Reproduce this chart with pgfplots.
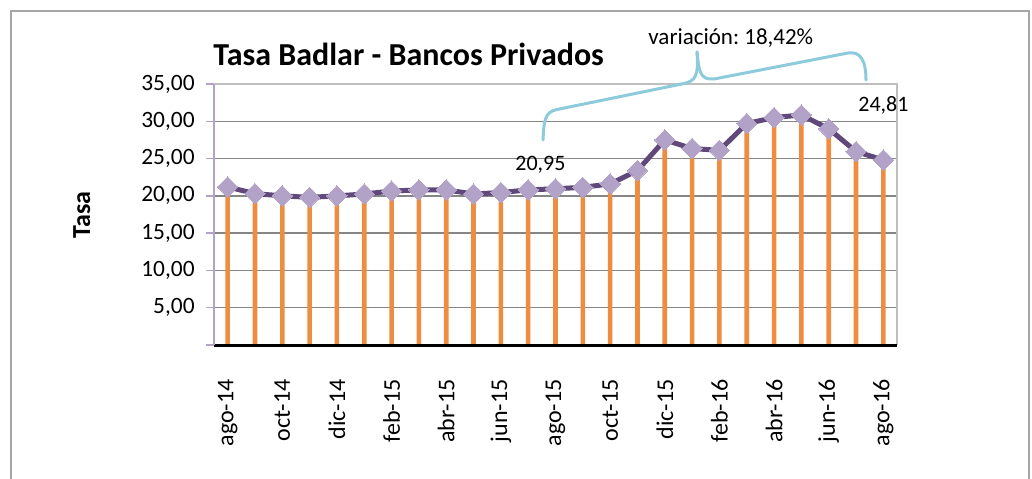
\documentclass[border=0pt]{standalone}
\usepackage{fontspec}
\setmainfont{Carlito}
\usepackage{pgfplots}
\usepackage{pgfplotstable}
\pgfplotsset{compat=1.18}
\definecolor{barorange}{RGB}{238,140,64}
\definecolor{linepurple}{RGB}{96,73,122}
\definecolor{markpurple}{RGB}{179,162,199}
\definecolor{gridgray}{RGB}{134,134,134}
\definecolor{bordergray}{RGB}{191,191,191}
\definecolor{bracecol}{RGB}{140,202,220}
\definecolor{framegray}{RGB}{166,166,166}
\pgfplotstableread{
x y
0 21.20
1 20.30
2 20.00
3 19.80
4 20.00
5 20.25
6 20.65
7 20.80
8 20.80
9 20.25
10 20.45
11 20.80
12 20.95
13 21.15
14 21.60
15 23.40
16 27.50
17 26.35
18 26.10
19 29.70
20 30.50
21 30.85
22 29.00
23 25.95
24 24.81
}\datatable
\begin{document}
\frenchspacing
\begin{tikzpicture}
\useasboundingbox (0,0) rectangle (516pt,-239pt);
\draw[framegray, line width=1pt] (5.5pt,-5.5pt) rectangle (514.5pt,-260pt);
\begin{axis}[
 at={(107pt,-172.5pt)}, anchor=south west,
 scale only axis, width=341.5pt, height=130.5pt,
 xmin=-0.5, xmax=24.5, ymin=0, ymax=35,
 axis line style={draw=none},
 xtick={0,2,...,24},
 xticklabels={ago-14,oct-14,dic-14,feb-15,abr-15,jun-15,ago-15,oct-15,dic-15,feb-16,abr-16,jun-16,ago-16},
 x tick style={draw=none},
 xticklabel style={rotate=90, anchor=east, inner sep=0pt, font=\fontsize{12}{14}\selectfont},
 xticklabel shift=13pt,
 ytick={0,5,...,35},
 yticklabels={{},{5,00},{10,00},{15,00},{20,00},{25,00},{30,00},{35,00}},
 tick pos=left, tick align=outside, major tick length=4pt,
 y tick style={draw=markpurple, line width=0.75pt},
 yticklabel style={anchor=east, inner sep=0pt, font=\fontsize{11.7}{14}\selectfont},
 yticklabel shift=5.5pt,
 ymajorgrids, grid style={gridgray, line width=0.75pt},
 clip=false,
]
\addplot[linepurple, line width=2.5pt, mark=square*, mark size=3.6pt,
  mark options={rotate=45, fill=markpurple, draw=markpurple, line width=0pt}]
  table[x=x,y=y]{\datatable};
\addplot[ybar, bar width=2.3pt, fill=barorange, draw=none] table[x=x,y=y]{\datatable};
\draw[bordergray, line width=0.75pt] (rel axis cs:0,1) -- (rel axis cs:1,1) -- (rel axis cs:1,0);
\draw[black, line width=1.5pt] (rel axis cs:0,0) -- (rel axis cs:1,0);
\draw[markpurple, line width=0.75pt] (rel axis cs:0,0) -- (rel axis cs:0,1);
\end{axis}
\begin{scope}[x=0.5pt,y=-0.5pt]
\node[anchor=base west, inner sep=0pt, font=\bfseries\fontsize{16}{18}\selectfont] at (213,65) {Tasa Badlar - Bancos Privados};
\node[rotate=90, anchor=base, inner sep=0pt, font=\bfseries\fontsize{13}{15}\selectfont] at (90,215) {Tasa};
\node[anchor=base west, inner sep=0pt, font=\fontsize{11.5}{13}\selectfont] at (648,44) {variación: 18,42\%};
\node[anchor=base west, inner sep=0pt, font=\fontsize{11}{13}\selectfont] at (858,111) {24,81};
\node[anchor=base west, inner sep=0pt, font=\fontsize{11}{13}\selectfont] at (515,170) {20,95};
\draw[bracecol, line width=1.5pt, line cap=round] (543,140) .. controls (544,122) and (544,112) .. (557,109.5) -- (684,83.5) .. controls (695,81) and (699,76) .. (697,52);
\draw[bracecol, line width=1.5pt, line cap=round] (697,52) .. controls (699,72) and (700,80) .. (714,79) -- (848,53) .. controls (860,51) and (866,60) .. (866,80);
\end{scope}
\end{tikzpicture}
\end{document}
